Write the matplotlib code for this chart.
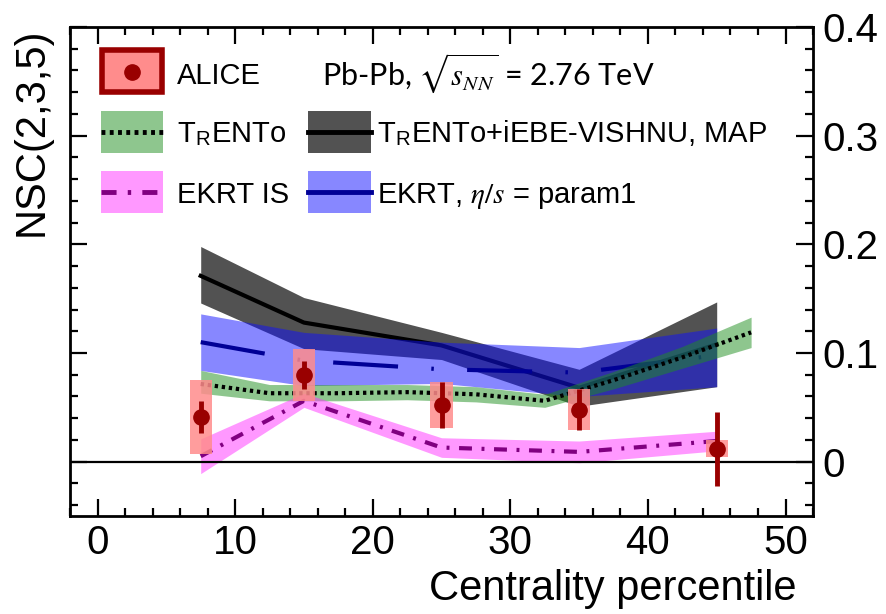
import matplotlib
matplotlib.use("Agg")
import matplotlib.pyplot as plt
from matplotlib.patches import Rectangle
from matplotlib.lines import Line2D
from matplotlib.ticker import MultipleLocator, FuncFormatter

plt.rcParams["font.family"] = ["Liberation Sans", "DejaVu Sans"]
plt.rcParams["mathtext.fontset"] = "stix"

# ---------------------------------------------------------------------------
# Data
# ---------------------------------------------------------------------------

# ALICE measurement
alice_x = [7.5, 15, 25, 35, 45]
alice_y = [0.041, 0.080, 0.052, 0.048, 0.012]
alice_stat = [0.015, 0.013, 0.021, 0.019, 0.034]
alice_sys = [0.034, 0.024, 0.021, 0.019, 0.008]

# TRENTo (5% bins)
trento_x = [7.5, 12.5, 17.5, 22.5, 27.5, 32.5, 37.5, 42.5, 47.5]
trento_y = [0.0715, 0.063, 0.063, 0.064, 0.062, 0.056, 0.075, 0.096, 0.119]
trento_lo = [0.063, 0.056, 0.056, 0.057, 0.055, 0.050, 0.067, 0.086, 0.105]
trento_hi = [0.084, 0.071, 0.071, 0.071, 0.069, 0.062, 0.083, 0.106, 0.133]

# TRENTo+iEBE-VISHNU, MAP
map_x = [7.5, 15, 25, 35, 45]
map_y = [0.171, 0.128, 0.107, 0.068, 0.108]
map_lo = [0.146, 0.104, 0.094, 0.051, 0.069]
map_hi = [0.198, 0.151, 0.119, 0.085, 0.147]

# EKRT IS
ekis_x = [7.5, 15, 25, 35, 45]
ekis_y = [0.005, 0.056, 0.013, 0.009, 0.019]
ekis_lo = [-0.011, 0.050, 0.004, -0.001, 0.010]
ekis_hi = [0.021, 0.063, 0.022, 0.019, 0.028]

# EKRT, eta/s = param1
ekp1_x = [7.5, 15, 25, 35, 45]
ekp1_y = [0.110, 0.093, 0.085, 0.082, 0.098]
ekp1_lo = [0.084, 0.070, 0.072, 0.060, 0.069]
ekp1_hi = [0.136, 0.119, 0.110, 0.105, 0.123]

# ---------------------------------------------------------------------------
# Style
# ---------------------------------------------------------------------------

RED_DARK = "#990000"
RED_BOX = "#ff8c8c"
GREEN = "#1f8f1f"
GRAY = "#000000"
BLUE = "#1010ff"
NAVY = "#000096"
MAGENTA = "#ff33ff"
PURPLE = "#800080"

TICK_FS = 29
LEG_FS = 21

fig = plt.figure(figsize=(8.87, 6.14), dpi=100)
ax = fig.add_axes([0.0789, 0.1596, 0.8377, 0.7964])

# bands + lines
ax.fill_between(map_x, map_lo, map_hi, color=GRAY, alpha=0.68, lw=0, zorder=1)
ax.plot(map_x, map_y, color="black", lw=3, zorder=2)
ax.fill_between(ekp1_x, ekp1_lo, ekp1_hi, color=BLUE, alpha=0.5, lw=0, zorder=3)
ax.plot(ekp1_x, ekp1_y, color=NAVY, lw=3, ls=(0, (15.6, 8, 0.6, 8)), zorder=4)
ax.fill_between(trento_x, trento_lo, trento_hi, color=GREEN, alpha=0.5, lw=0, zorder=5)
ax.plot(trento_x, trento_y, color="black", lw=3, ls=(0, (0.8, 0.9)), zorder=6)
ax.fill_between(ekis_x, ekis_lo, ekis_hi, color=MAGENTA, alpha=0.5, lw=0, zorder=5)
ax.plot(ekis_x, ekis_y, color=PURPLE, lw=3, ls=(0, (3.1, 2.3, 0.7, 2.3)), zorder=6)

ax.axhline(0, color="black", lw=1.6, zorder=7)

# ALICE: systematic boxes, statistical bars
ax.bar(alice_x, [2 * s for s in alice_sys],
       bottom=[y - s for y, s in zip(alice_y, alice_sys)],
       width=1.6, color=RED_BOX, alpha=0.85, lw=0, zorder=8)
ax.errorbar(alice_x, alice_y, yerr=alice_stat, fmt="o", color=RED_DARK,
            ms=11, elinewidth=3.5, capsize=0, zorder=9)

# axes
ax.set_xlim(-2, 52)
ax.set_ylim(-0.05, 0.4)
ax.xaxis.set_major_locator(MultipleLocator(10))
ax.xaxis.set_minor_locator(MultipleLocator(2))
ax.yaxis.set_major_locator(MultipleLocator(0.1))
ax.yaxis.set_minor_locator(MultipleLocator(0.02))
ax.yaxis.set_major_formatter(FuncFormatter(lambda v, p: f"{v:g}"))
ax.tick_params(which="both", direction="in", top=True, right=True,
               left=True, bottom=True, labelleft=False, labelright=True,
               width=1.6, labelsize=TICK_FS)
ax.tick_params(which="major", length=12)
ax.tick_params(which="minor", length=6)
ax.tick_params(axis="x", pad=6)
ax.tick_params(axis="y", pad=7)
for sp in ax.spines.values():
    sp.set_linewidth(2)

ax.set_xlabel("Centrality percentile", fontsize=30, loc="right")
ax.xaxis.set_label_coords(0.978, -0.108)
ax.set_ylabel("NSC(2,3,5)", fontsize=30, loc="top")
ax.yaxis.set_label_coords(-0.025, 1.0)

# ---------------------------------------------------------------------------
# Legend (hand placed, axes fraction)
# ---------------------------------------------------------------------------

T = ax.transAxes
HX0, HW = 0.0417, 0.084      # column 1 handle
HX1 = 0.3207                 # column 2 handle
HH = 0.086
TX0, TX1 = 0.144, 0.4136     # text columns

# ALICE
ax.add_patch(Rectangle((0.043, 0.868), 0.081, 0.085, transform=T,
                       facecolor=RED_BOX, edgecolor=RED_DARK, lw=4,
                       zorder=10, clip_on=False))
ax.add_line(Line2D([0.083], [0.9086], transform=T, marker="o", ms=11,
                   color=RED_DARK, zorder=11))
ax.text(TX0, 0.8828, "ALICE", transform=T, fontsize=LEG_FS, va="baseline")
ax.text(0.3388, 0.8816, r"Pb-Pb, $\sqrt{s_{NN}}$ = 2.76 TeV", transform=T,
        fontsize=LEG_FS + 1, va="baseline", family=["Lato", "DejaVu Sans"])


def leg_entry(x, ybot, face, alpha, lcolor, ls, label, tx):
    ax.add_patch(Rectangle((x, ybot), HW, HH, transform=T, facecolor=face,
                           alpha=alpha, lw=0, zorder=10))
    ax.add_line(Line2D([x, x + HW], [ybot + HH / 2] * 2, transform=T,
                       color=lcolor, lw=3.5, ls=ls, zorder=11))
    ax.text(tx, ybot + 0.022, label, transform=T, fontsize=LEG_FS,
            va="baseline", zorder=11)


leg_entry(HX0, 0.7429, GREEN, 0.5, "black", (0, (0.8, 0.9)),
          r"T$_\mathregular{R}$ENTo", TX0)
leg_entry(HX1, 0.7429, GRAY, 0.68, "black", "-",
          r"T$_\mathregular{R}$ENTo+iEBE-VISHNU, MAP", TX1)
leg_entry(HX0, 0.619, MAGENTA, 0.5, PURPLE, (0, (3.1, 2.3, 0.7, 2.3)),
          "EKRT IS", TX0)
leg_entry(HX1, 0.619, BLUE, 0.5, NAVY, "-",
          r"EKRT, $\eta/s$ = param1", TX1)

fig.savefig("out.png", dpi=100)
